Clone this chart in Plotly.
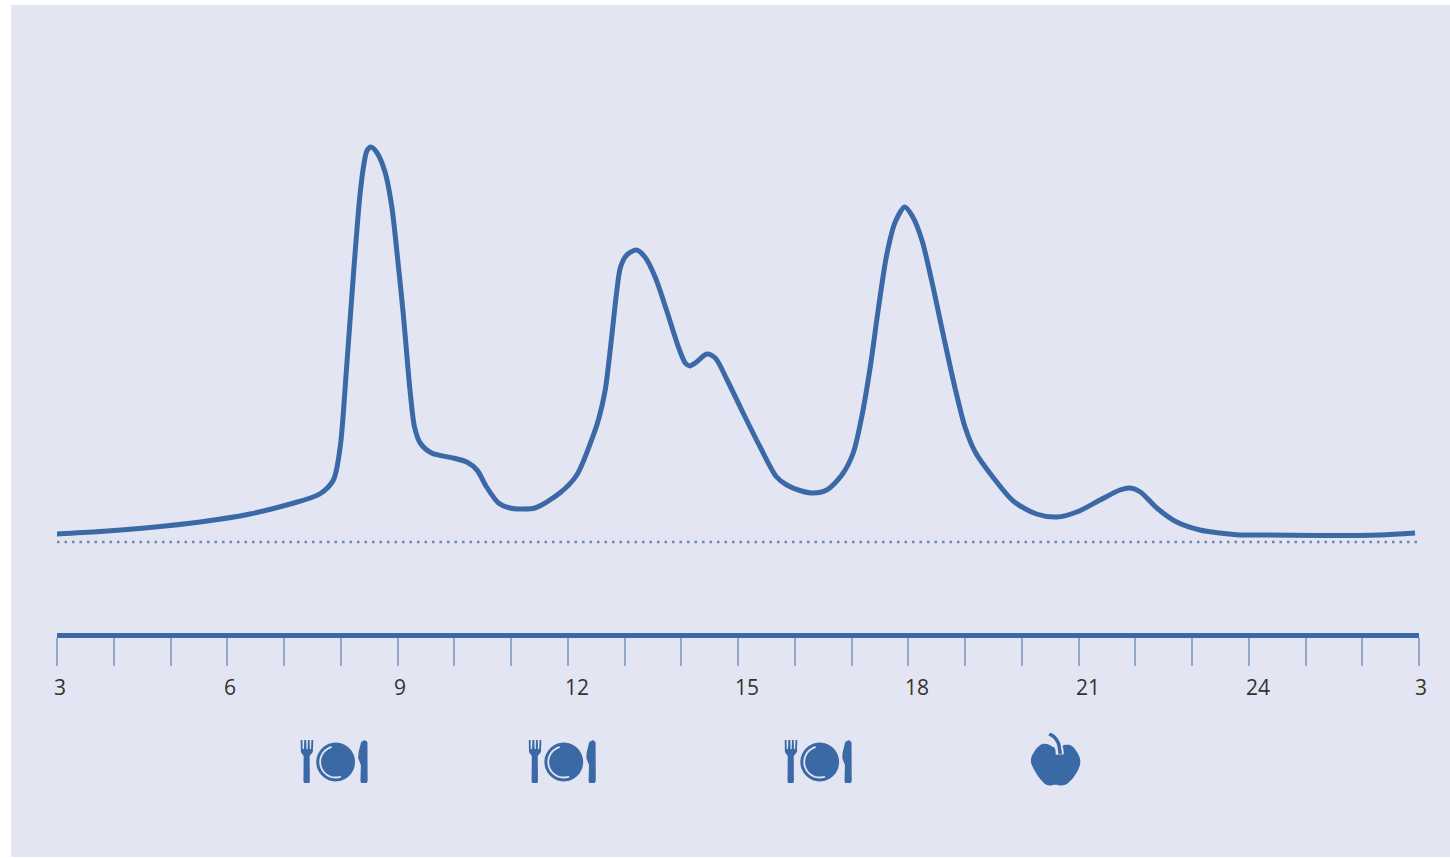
import numpy as np
import plotly.graph_objects as go

hours = [3.00, 3.76, 4.64, 5.52, 6.40, 7.11, 7.63, 7.87, 7.99, 8.10, 8.22, 8.33, 8.40, 8.46, 8.53, 8.63, 8.78,
         8.90, 9.01, 9.10, 9.22, 9.30, 9.40, 9.60, 9.98, 10.22, 10.40, 10.57, 10.78, 10.98, 11.16, 11.42,
         11.86, 12.16, 12.44, 12.55, 12.66, 12.77, 12.86, 12.93, 13.04, 13.21, 13.36, 13.54, 13.74, 13.95, 14.07,
         14.15, 14.27, 14.45, 14.60, 14.80, 15.09, 15.39, 15.68, 15.86, 16.09, 16.32, 16.56, 16.83, 17.03,
         17.18, 17.33, 17.47, 17.62, 17.77, 17.94, 18.08, 18.24, 18.41, 18.61, 18.82, 19.00, 19.18, 19.49,
         19.85, 20.26, 20.62, 20.97, 21.38, 21.73, 21.91, 22.09, 22.38, 22.73, 23.14, 23.49, 23.85, 24.20,
         25.26, 26.31, 26.93]
values = [8, 10.5, 14.5, 20, 28, 38, 48, 62, 95, 172, 265, 342, 375, 391, 395, 390, 370,
          335, 279, 229, 152, 115, 99, 89, 84, 80, 72, 55, 39, 34, 33, 34,
          49, 67, 105, 124, 152, 203, 249, 275, 287, 292, 285, 265, 232, 195, 179,
          176, 180, 188, 184, 163, 129, 95, 65, 57, 51.5, 49, 52, 67, 89,
          125, 175, 232, 287, 320, 335, 325, 302, 262, 209, 155, 115, 90, 65,
          41, 28, 25, 30, 42, 52, 54, 50, 34, 20, 12, 9, 7, 7,
          6.5, 7, 9]
baseline_hours = [3, 27]
baseline_values = [0, 0]
tick_hours = list(range(3, 28))
label_hours = [3, 6, 9, 12, 15, 18, 21, 24, 27]
label_text = ["3", "6", "9", "12", "15", "18", "21", "24", "3"]
label_shift = [3, 3, 2, 9, 9, 9, 9, 9, 2]
meal_hours = [7.91, 11.93, 16.44]
snack_hours = [20.59]

BLUE = "#3B69A6"
PANEL = "#E3E6F2"
W, H = 1450, 858
BASE_PX = 542
LABEL_VALUE = -145
ICON_VALUE = -220


def smooth(pts, closed=True, n=8):
    p = np.array(pts, float)
    m = len(p)
    out = []
    rng = range(m) if closed else range(m - 1)
    for i in rng:
        if closed:
            a, b, c, d = p[(i - 1) % m], p[i], p[(i + 1) % m], p[(i + 2) % m]
        else:
            a, b, c, d = p[max(i - 1, 0)], p[i], p[i + 1], p[min(i + 2, m - 1)]
        for t in np.linspace(0, 1, n, endpoint=False):
            out.append(0.5 * (2 * b + (c - a) * t + (2 * a - 5 * b + 4 * c - d) * t ** 2
                              + (3 * b - a - 3 * c + d) * t ** 3))
    if not closed:
        out.append(p[-1])
    return out


def path(pts, closed=True):
    s = "M " + " L ".join(f"{x:.2f} {y:.2f}" for x, y in pts)
    return s + (" Z" if closed else "")


def arc(r, a0, a1, n=40):
    return [(r * np.cos(t), r * np.sin(t)) for t in np.radians(np.linspace(a0, a1, n))]


FORK = [(-32.2, -19), (-31.6, -21), (-26.4, -21), (-25.8, -19), (-26, 6), (-22.8, 10), (-22.4, 22), (-24.2, 22),
        (-24.6, 13), (-25.8, 13), (-26, 22), (-27.8, 22), (-28, 13), (-29.2, 13), (-29.4, 22), (-31.4, 22),
        (-31.7, 13), (-33, 13), (-33.2, 22), (-35, 22), (-34.8, 10), (-32, 6)]
KNIFE = [(24.8, -19), (25.4, -21), (31, -21), (32, -19), (31.8, 20), (29, 22), (25.5, 20), (23, 10), (22.5, 4),
         (24, 0), (25.2, -3)]
APPLE = [(3, 13), (9, 17), (16.7, 16), (23.3, 7), (25, -1.3), (21, -11.3), (13.3, -20.7), (6.5, -23.5),
         (0, -22.7), (-6, -23.5), (-11.7, -20.7), (-19, -11.3), (-24.3, 0.3), (-21.7, 9.3), (-15, 17),
         (-8.3, 18), (-2, 15)]
STEM_GAP = [(-3, 24), (1.5, 20), (4, 13), (4.5, 7.5)]
STEM = [(-6, 28), (-1, 25), (3, 19), (4.5, 12), (5, 8)]


def pixel_shape(hour, value, d, **style):
    return dict(type="path", xref="x", yref="y", xsizemode="pixel", ysizemode="pixel",
                xanchor=hour, yanchor=value, path=d, **style)


solid = dict(fillcolor=BLUE, line=dict(width=0))
shapes = [dict(type="rect", xref="paper", yref="paper", x0=11 / W, x1=1, y0=1 / H, y1=1 - 5 / H,
               fillcolor=PANEL, line=dict(width=0), layer="below")]
for h in meal_hours:
    shapes += [
        pixel_shape(h, ICON_VALUE, path(FORK), **solid),
        pixel_shape(h, ICON_VALUE, path(KNIFE), **solid),
        pixel_shape(h, ICON_VALUE, path(arc(19.4, 0, 360)), **solid),
        pixel_shape(h, ICON_VALUE, path(arc(15.5, 105, 290), closed=False),
                    line=dict(color=PANEL, width=1.8)),
    ]
for h in snack_hours:
    shapes += [
        pixel_shape(h, ICON_VALUE, path(smooth(APPLE)), **solid),
        pixel_shape(h, ICON_VALUE, path(smooth(STEM_GAP, closed=False), closed=False),
                    line=dict(color=PANEL, width=8)),
        pixel_shape(h, ICON_VALUE, path(smooth(STEM, closed=False), closed=False),
                    line=dict(color=BLUE, width=3.5)),
    ]

annotations = [dict(x=h, y=LABEL_VALUE, text=t, xshift=s, showarrow=False, xref="x", yref="y",
                    font=dict(family="Open Sans", size=21, color="#333333"))
               for h, t, s in zip(label_hours, label_text, label_shift)]

fig = go.Figure()
fig.add_trace(go.Scatter(x=baseline_hours, y=baseline_values, mode="lines", hoverinfo="skip",
                         line=dict(color="#6F88AF", width=2.5, dash="2.5px,5px")))
fig.add_trace(go.Scatter(x=hours, y=values, mode="lines",
                         line=dict(color=BLUE, width=5, shape="spline", smoothing=0.8)))
fig.update_layout(
    width=W, height=H, autosize=False, showlegend=False,
    margin=dict(l=0, r=0, t=0, b=0, pad=0),
    paper_bgcolor="white", plot_bgcolor="rgba(0,0,0,0)",
    shapes=shapes, annotations=annotations,
    xaxis=dict(domain=[57 / W, 1419 / W], range=[3, 27], anchor="free", position=(H - 635) / H,
               tickmode="array", tickvals=tick_hours, showticklabels=False, ticks="outside", ticklen=28,
               tickwidth=1.5, tickcolor="#93A7C9", showline=True, linecolor=BLUE, linewidth=5,
               showgrid=False, zeroline=False),
    yaxis=dict(domain=[0, 1], range=[BASE_PX - H, BASE_PX], visible=False, showgrid=False, zeroline=False),
)
fig.write_html("out.html", config=dict(displayModeBar=False),
               post_script="document.body.style.margin='0';document.documentElement.style.overflow='hidden';")
